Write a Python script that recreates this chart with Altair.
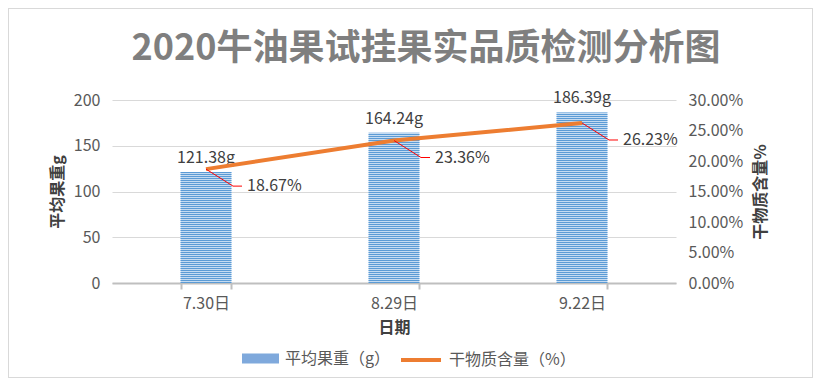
import altair as alt
import pandas as pd

dates = ["7.30日", "8.29日", "9.22日"]
weights = [121.38, 164.24, 186.39]
dry_matter = [0.1867, 0.2336, 0.2623]
weight_ticks = [0, 50, 100, 150, 200]
dry_ticks = [0, 0.05, 0.10, 0.15, 0.20, 0.25, 0.30]
series_names = ["平均果重（g）", "干物质含量（%）"]
title_text = "2020牛油果试挂果实品质检测分析图"

df = pd.DataFrame({
    "date": dates,
    "weight": weights,
    "dry": dry_matter,
    "s1": [series_names[0]] * len(dates),
    "s2": [series_names[1]] * len(dates),
})

FONT = "Noto Sans CJK SC"
BLUE = "#5B9BD5"
BLUE_LIGHT = "#C5DBF1"
ORANGE = "#ED7D31"
W, H = 564, 183
W_DOMAIN = [0, 200]
D_DOMAIN = [0, 0.30]

base = alt.Chart(df)

x = alt.X(
    "date:N", sort=dates,
    scale=alt.Scale(paddingInner=0.73, paddingOuter=0.365),
    axis=alt.Axis(
        title="日期", labelAngle=0, tickBand="extent",
        domainColor="#BFBFBF", domainWidth=2,
        tickColor="#BFBFBF", tickWidth=2, tickSize=6,
        labelFontSize=16, labelColor="#595959", labelPadding=6,
        titleFontSize=16, titleFontWeight="bold", titleColor="#404040",
        titlePadding=8, grid=False,
    ),
)

y_left = alt.Y(
    "weight:Q",
    scale=alt.Scale(domain=W_DOMAIN),
    axis=alt.Axis(
        orient="left", values=weight_ticks, title="平均果重g", domain=False, ticks=False,
        labelFontSize=16, labelColor="#595959", labelPadding=12,
        grid=True, gridColor="#D9D9D9", gridWidth=1,
        titleFontSize=16, titleFontWeight="bold", titleColor="#404040",
        titlePadding=8,
    ),
)

bars = base.mark_bar().encode(
    x=x,
    y=y_left,
    color=alt.Color(
        "s1:N",
        scale=alt.Scale(domain=[series_names[0]], range=[BLUE_LIGHT]),
        legend=None,
    ),
)

stripes = base.transform_calculate(zero="0").mark_rule(
    strokeWidth=51, strokeDash=[1, 1], strokeCap="butt"
).encode(
    x=x,
    y=alt.Y("zero:Q", scale=alt.Scale(domain=W_DOMAIN), axis=None),
    y2=alt.Y2("weight:Q"),
    stroke=alt.Stroke(
        "s1:N",
        scale=alt.Scale(domain=[series_names[0]], range=[BLUE]),
        legend=alt.Legend(
            title=None, orient="none", legendX=130, legendY=240, padding=0,
            symbolType="M-1,-0.27L1,-0.27L1,0.27L-1,0.27Z", symbolSize=1369,
            symbolFillColor="#7FA9DC", symbolStrokeWidth=0, symbolOpacity=1,
            labelFontSize=16, labelColor="#595959", labelOffset=6, labelFont=FONT,
        ),
    ),
)

bar_labels = base.transform_calculate(
    label="format(datum.weight, '.2f') + 'g'"
).mark_text(baseline="middle", dy=-14, fontSize=16, color="#404040", font=FONT).encode(
    x=x,
    y=alt.Y("weight:Q", scale=alt.Scale(domain=W_DOMAIN), axis=None),
    text="label:N",
)

y_right = alt.Y(
    "dry:Q",
    scale=alt.Scale(domain=D_DOMAIN),
    axis=alt.Axis(
        orient="right", values=dry_ticks, format=".2%", title="干物质含量%",
        titleAngle=270, titleBaseline="top", domain=False, ticks=False, grid=False,
        labelFontSize=16, labelColor="#595959", labelPadding=12,
        titleFontSize=16, titleFontWeight="bold", titleColor="#404040",
        titlePadding=10,
    ),
)

line = base.mark_line(strokeWidth=4).encode(
    x=x,
    y=y_right,
    color=alt.Color(
        "s2:N",
        scale=alt.Scale(domain=[series_names[1]], range=[ORANGE]),
        legend=alt.Legend(
            title=None, orient="none", legendX=287, legendY=238, padding=0,
            symbolType="stroke", symbolSize=1600, symbolStrokeWidth=4,
            labelFontSize=16, labelColor="#595959", labelOffset=6, labelFont=FONT,
        ),
    ),
)

leaders = base.mark_point(
    shape="M0,0L27,17L36,17", size=4, filled=False, stroke="#FF0000",
    strokeWidth=1, opacity=1,
).encode(x=x, y=alt.Y("dry:Q", scale=alt.Scale(domain=D_DOMAIN), axis=None))

line_labels = base.mark_text(
    align="left", baseline="middle", dx=41, dy=17, fontSize=16, color="#404040", font=FONT
).encode(
    x=x,
    y=alt.Y("dry:Q", scale=alt.Scale(domain=D_DOMAIN), axis=None),
    text=alt.Text("dry:Q", format=".2%"),
)

border = base.mark_rect(fillOpacity=0, stroke="#D9D9D9", strokeWidth=1).encode(
    x=alt.value(-103.5), x2=alt.value(700.5), y=alt.value(-91.5), y2=alt.value(277.5)
)

chart = alt.layer(
    bars, stripes, bar_labels, line, leaders, line_labels, border
).resolve_scale(y="independent", color="independent").properties(
    width=W, height=H,
    autosize=alt.AutoSizeParams(type="none"),
    padding={"left": 104, "top": 92, "right": 137, "bottom": 95},
    title=alt.TitleParams(
        text=title_text, fontSize=36, font=FONT, fontWeight="bold", color="#7F7F7F",
        anchor="middle", frame="group", offset=-60, dx=32,
    ),
).configure(font=FONT).configure_view(stroke=None)

chart.save("out.html", embed_options={"renderer": "svg", "actions": False})
